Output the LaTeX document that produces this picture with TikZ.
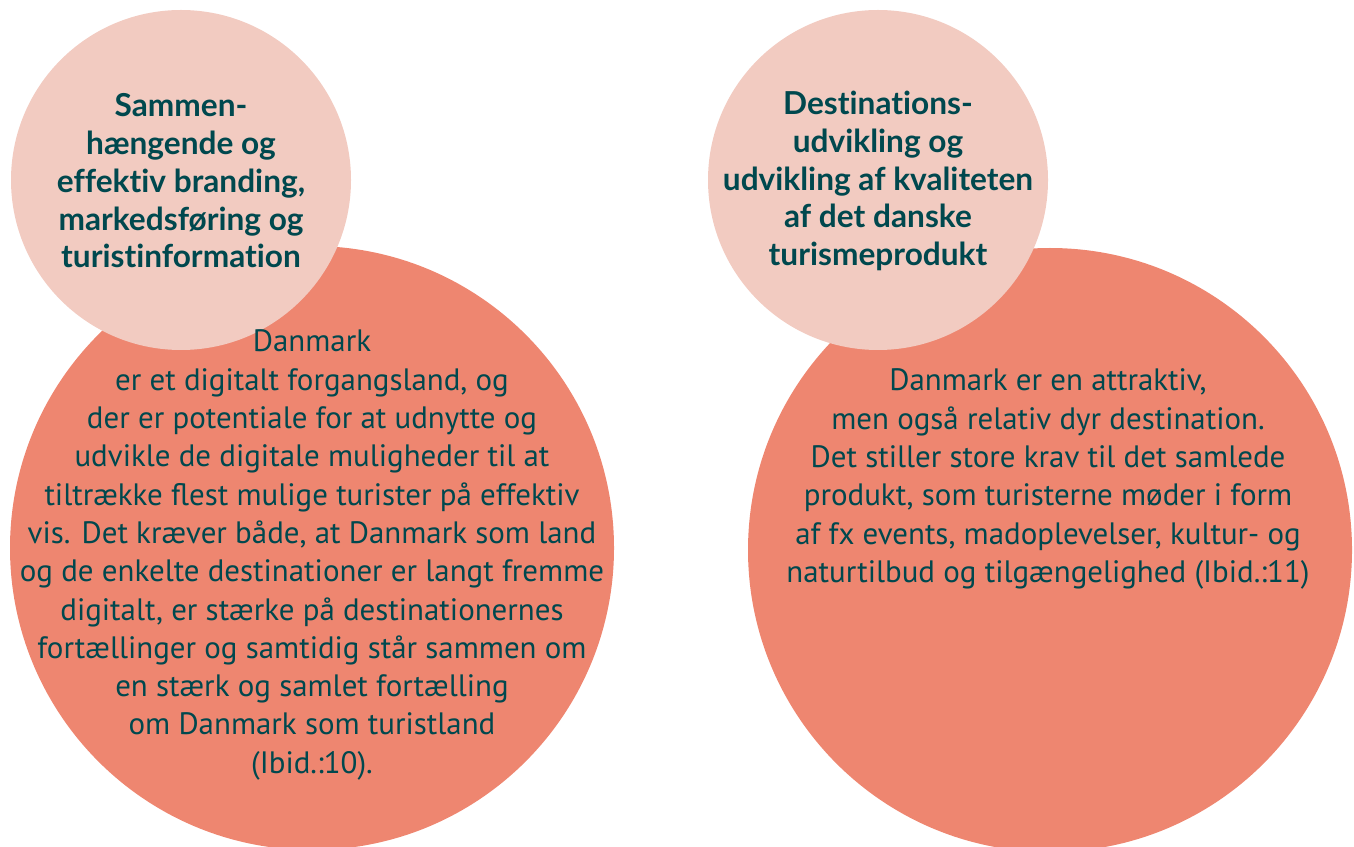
\documentclass[tikz,border=0pt]{standalone}
\usepackage{fontspec}
\setmainfont{PT Sans}
\newfontfamily\titelfont[Ligatures=NoCommon, Contextuals=NoAlternate, RawFeature=-liga]{Lato}
\usepackage{tikz}
\definecolor{laks}{RGB}{238,134,112}
\definecolor{rosa}{RGB}{242,203,193}
\definecolor{petrol}{RGB}{0,72,78}

\begin{document}
\begin{tikzpicture}[x=0.02cm, y=-0.02cm,
    titel/.style={text=petrol, align=center, font=\titelfont\bfseries\fontsize{18}{21.5}\selectfont},
    brodtekst/.style={text=petrol, align=center, font=\fontsize{17.6}{21.8}\selectfont}]
        \useasboundingbox (0,0) rectangle (1354,847);

        % cirkler
        \def\venstrestor{(312,548) circle (302)}
        \def\venstrelille{(181,180) circle (170)}
        \def\hoejrestor{(1050,550) circle (302)}
        \def\hoejrelille{(878,180) circle (170)}

        % store cirkler
        \fill[laks] \venstrestor;
        \fill[laks] \hoejrestor;

        % små cirkler ovenpå
        \fill[rosa] \venstrelille;
        \fill[rosa] \hoejrelille;

        % overskrifter
        \node[titel] (titelvenstre) at (181,181) {Sammen-\\hængende og\\effektiv branding,\\markedsføring og\\turistinformation};
        \node[titel] (titelhoejre) at (878,181) {Destinations-\\udvikling og\\udvikling af kvaliteten\\af det danske\\turismeprodukt};

        % brødtekst
        \node[brodtekst] (tekstvenstre) at (312,555) {Danmark\\er et digitalt forgangsland, og\\der er potentiale for at udnytte og\\udvikle de digitale muligheder til at\\tiltrække flest mulige turister på effektiv\\vis. Det kræver både, at Danmark som land\\og de enkelte destinationer er langt fremme\\digitalt, er stærke på destinationernes\\fortællinger og samtidig står sammen om\\en stærk og samlet fortælling\\om Danmark som turistland\\(Ibid.:10).};
        \node[brodtekst] (teksthoejre) at (1048,479) {Danmark er en attraktiv,\\men også relativ dyr destination.\\Det stiller store krav til det samlede\\produkt, som turisterne møder i form\\af fx events, madoplevelser, kultur- og\\naturtilbud og tilgængelighed (Ibid.:11)};
    \end{tikzpicture}
\end{document}
